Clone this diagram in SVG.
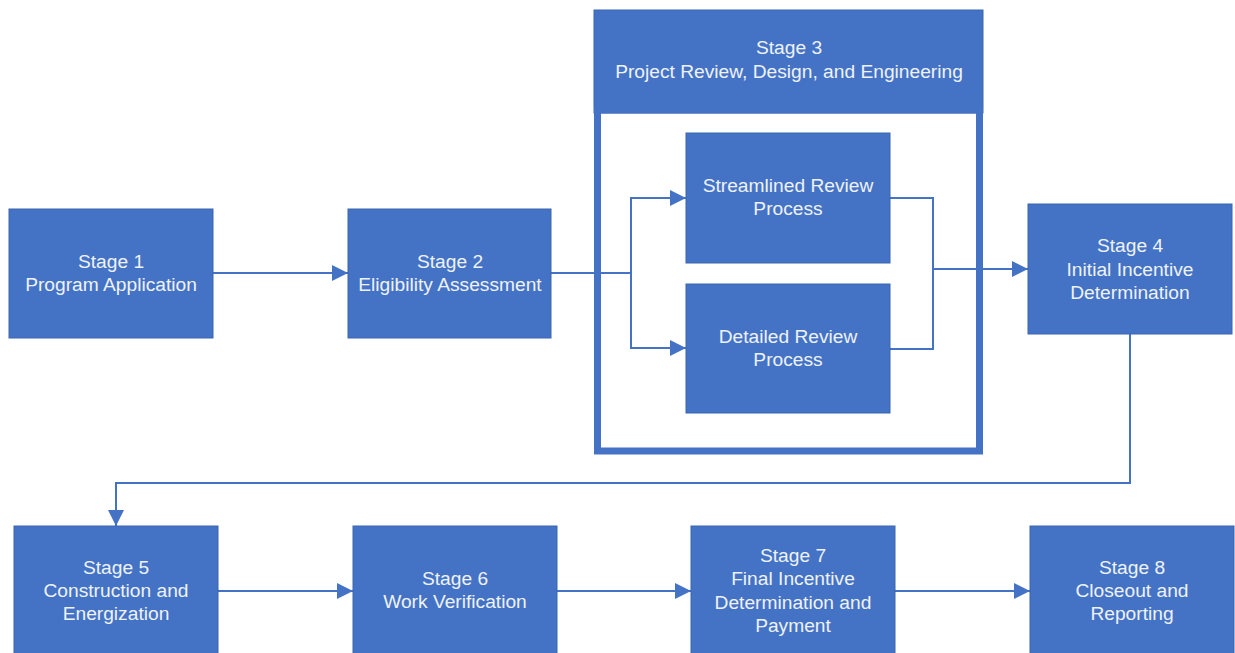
<svg xmlns="http://www.w3.org/2000/svg" width="1235" height="653" viewBox="0 0 1235 653">
<style>
.box{fill:#4472C4;stroke:#3A66B0;stroke-width:1}
.frame{fill:none;stroke:#4472C4;stroke-width:7}
.t{font-family:"Liberation Sans",Arial,sans-serif;font-size:19.2px;fill:#EEF2FA;text-anchor:middle}
.c{fill:none;stroke:#4472C4;stroke-width:2}
</style>
<defs>
<marker id="ah" viewBox="0 0 16 16" refX="16" refY="8" markerWidth="16" markerHeight="16" markerUnits="userSpaceOnUse" orient="auto">
<path d="M0,0 L16,8 L0,16 Z" fill="#4472C4"/>
</marker>
</defs>
<rect x="0" y="0" width="1235" height="653" fill="#ffffff"/>
<g id="stage3">
<rect x="594" y="10" width="389" height="103" fill="#4472C4" stroke="#3A66B0" stroke-width="1"/>
<rect class="frame" x="597.5" y="110" width="382" height="341"/>
<text class="t" x="789" y="54">Stage 3</text>
<text class="t" x="789" y="78">Project Review, Design, and Engineering</text>
</g>
<g id="connectors">
<path class="c" d="M213,273 L348,273" marker-end="url(#ah)"/>
<path class="c" d="M551,273 L631,273"/>
<path class="c" d="M631,273 L631,198 L686,198" marker-end="url(#ah)"/>
<path class="c" d="M631,273 L631,348 L686,348" marker-end="url(#ah)"/>
<path class="c" d="M890,198 L933,198 L933,349 L890,349"/>
<path class="c" d="M933,269 L1028,269" marker-end="url(#ah)"/>
<path class="c" d="M1130,334 L1130,483 L116,483 L116,526" marker-end="url(#ah)"/>
<path class="c" d="M218,591 L353,591" marker-end="url(#ah)"/>
<path class="c" d="M557,591 L691,591" marker-end="url(#ah)"/>
<path class="c" d="M895,591 L1030,591" marker-end="url(#ah)"/>
</g>
<g id="stage1">
<rect class="box" x="9" y="209" width="204" height="129"/>
<text class="t" x="111" y="268">Stage 1</text>
<text class="t" x="111" y="291">Program Application</text>
</g>
<g id="stage2">
<rect class="box" x="348" y="209" width="203" height="129"/>
<text class="t" x="450" y="268">Stage 2</text>
<text class="t" x="450" y="291">Eligibility Assessment</text>
</g>
<g id="streamlined">
<rect class="box" x="686" y="133" width="204" height="130"/>
<text class="t" x="788" y="192">Streamlined Review</text>
<text class="t" x="788" y="215">Process</text>
</g>
<g id="detailed">
<rect class="box" x="686" y="284" width="204" height="129"/>
<text class="t" x="788" y="343">Detailed Review</text>
<text class="t" x="788" y="366">Process</text>
</g>
<g id="stage4">
<rect class="box" x="1028" y="204" width="204" height="130"/>
<text class="t" x="1130" y="252">Stage 4</text>
<text class="t" x="1130" y="276">Initial Incentive</text>
<text class="t" x="1130" y="299">Determination</text>
</g>
<g id="stage5">
<rect class="box" x="14" y="526" width="204" height="140"/>
<text class="t" x="116" y="574">Stage 5</text>
<text class="t" x="116" y="597">Construction and</text>
<text class="t" x="116" y="620">Energization</text>
</g>
<g id="stage6">
<rect class="box" x="353" y="526" width="204" height="140"/>
<text class="t" x="455" y="585">Stage 6</text>
<text class="t" x="455" y="608">Work Verification</text>
</g>
<g id="stage7">
<rect class="box" x="691" y="526" width="204" height="140"/>
<text class="t" x="793" y="562">Stage 7</text>
<text class="t" x="793" y="585">Final Incentive</text>
<text class="t" x="793" y="609">Determination and</text>
<text class="t" x="793" y="632">Payment</text>
</g>
<g id="stage8">
<rect class="box" x="1030" y="526" width="204" height="140"/>
<text class="t" x="1132" y="574">Stage 8</text>
<text class="t" x="1132" y="597">Closeout and</text>
<text class="t" x="1132" y="620">Reporting</text>
</g>
</svg>
